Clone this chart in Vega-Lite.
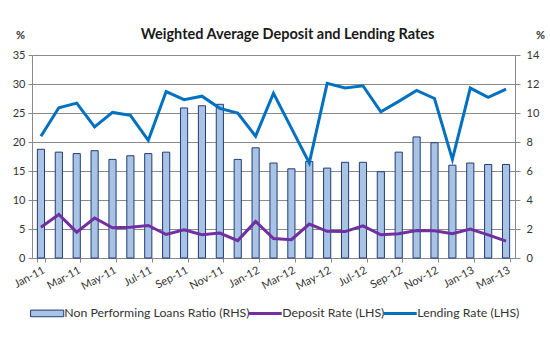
{
  "$schema": "https://vega.github.io/schema/vega-lite/v6.json",
  "width": 483,
  "height": 203,
  "autosize": "none",
  "padding": {"left": 32, "top": 55, "right": 35, "bottom": 87},
  "background": "white",
  "title": {"text": "Weighted Average Deposit and Lending Rates", "font": "Lato", "fontSize": 14.5, "fontWeight": "bold", "color": "#1a1a1a", "anchor": "middle", "offset": 14, "dy": 27, "dx": 14},
  "config": {
    "view": {"stroke": null},
    "axis": {"labelFont": "Lato", "labelFontSize": 11, "labelColor": "#333333", "domainColor": "#888888", "tickColor": "#888888", "titleFont": "Lato"},
    "legend": {"labelFont": "Lato", "labelLimit": 400}
  },
  "data": {"values": [
    {"month": "Jan-11", "npl": 7.5, "deposit": 5.3, "lending": 21.0},
    {"month": "Feb-11", "npl": 7.3, "deposit": 7.5, "lending": 25.9},
    {"month": "Mar-11", "npl": 7.2, "deposit": 4.45, "lending": 26.7},
    {"month": "Apr-11", "npl": 7.4, "deposit": 6.9, "lending": 22.6},
    {"month": "May-11", "npl": 6.8, "deposit": 5.2, "lending": 25.1},
    {"month": "Jun-11", "npl": 7.05, "deposit": 5.3, "lending": 24.6},
    {"month": "Jul-11", "npl": 7.2, "deposit": 5.6, "lending": 20.3},
    {"month": "Aug-11", "npl": 7.3, "deposit": 4.05, "lending": 28.7},
    {"month": "Sep-11", "npl": 10.35, "deposit": 4.85, "lending": 27.3},
    {"month": "Oct-11", "npl": 10.5, "deposit": 4.0, "lending": 27.9},
    {"month": "Nov-11", "npl": 10.6, "deposit": 4.3, "lending": 25.8},
    {"month": "Dec-11", "npl": 6.8, "deposit": 3.0, "lending": 25.0},
    {"month": "Jan-12", "npl": 7.6, "deposit": 6.3, "lending": 21.0},
    {"month": "Feb-12", "npl": 6.55, "deposit": 3.35, "lending": 28.4},
    {"month": "Mar-12", "npl": 6.15, "deposit": 3.15, "lending": 22.4},
    {"month": "Apr-12", "npl": 6.65, "deposit": 5.85, "lending": 16.4},
    {"month": "May-12", "npl": 6.2, "deposit": 4.6, "lending": 30.1},
    {"month": "Jun-12", "npl": 6.6, "deposit": 4.55, "lending": 29.3},
    {"month": "Jul-12", "npl": 6.6, "deposit": 5.55, "lending": 29.7},
    {"month": "Aug-12", "npl": 5.95, "deposit": 4.0, "lending": 25.2},
    {"month": "Sep-12", "npl": 7.3, "deposit": 4.2, "lending": 27.0},
    {"month": "Oct-12", "npl": 8.35, "deposit": 4.75, "lending": 28.9},
    {"month": "Nov-12", "npl": 7.95, "deposit": 4.7, "lending": 27.5},
    {"month": "Dec-12", "npl": 6.4, "deposit": 4.2, "lending": 17.0},
    {"month": "Jan-13", "npl": 6.55, "deposit": 5.0, "lending": 29.3},
    {"month": "Feb-13", "npl": 6.45, "deposit": 4.0, "lending": 27.7},
    {"month": "Mar-13", "npl": 6.45, "deposit": 2.9, "lending": 29.1}
  ]},
  "layer": [
    {
      "mark": {"type": "bar", "fill": "#a9c3e5", "strokeWidth": 1},
      "encoding": {
        "x": {
          "field": "month", "type": "ordinal", "sort": null,
          "scale": {"paddingInner": 0.6, "paddingOuter": 0.3},
          "axis": {
            "title": null,
            "values": ["Jan-11", "Mar-11", "May-11", "Jul-11", "Sep-11", "Nov-11", "Jan-12", "Mar-12", "May-12", "Jul-12", "Sep-12", "Nov-12", "Jan-13", "Mar-13"],
            "tickBand": "extent", "labelAngle": -28, "labelAlign": "right", "labelBaseline": "top",
            "labelPadding": 2, "tickSize": 4
          }
        },
        "y": {
          "field": "npl", "type": "quantitative", "scale": {"domain": [0, 14]},
          "axis": {
            "orient": "right", "values": [0, 2, 4, 6, 8, 10, 12, 14], "grid": false,
            "title": "%", "titleAngle": 0, "titleX": 25, "titleY": -20, "titleAlign": "center", "titleBaseline": "middle",
            "titleFontSize": 11, "titleFontWeight": "bold", "titleColor": "#333333",
            "tickSize": 5, "labelPadding": 6
          }
        },
        "stroke": {
          "datum": "npl",
          "scale": {"domain": ["npl", "deposit", "lending"], "range": ["#203c78", "#7030a0", "#0070c0"]},
          "legend": {
            "orient": "bottom", "direction": "horizontal", "title": null, "offset": 15,
            "labelExpr": "datum.value == 'npl' ? 'Non Performing Loans Ratio (RHS)' : datum.value == 'deposit' ? 'Deposit Rate (LHS)' : 'Lending Rate (LHS)'",
            "labelFontSize": 12.3, "labelColor": "#333333", "labelOffset": 11, "symbolOffset": 9, "columnPadding": -11, "labelLimit": 400,
            "symbolSize": 1100, "symbolStrokeWidth": 3, "symbolType": "stroke",
            "encode": {"symbols": {"update": {
              "shape": {"signal": "datum.value == 'npl' ? 'M-1,-0.2H1V0.2H-1Z' : 'stroke'"},
              "fill": {"signal": "datum.value == 'npl' ? '#a9c3e5' : 'transparent'"},
              "strokeWidth": {"signal": "datum.value == 'npl' ? 1 : 3"}
            }}}
          }
        }
      }
    },
    {
      "transform": [{"fold": ["deposit", "lending"], "as": ["series", "value"]}],
      "mark": {"type": "line", "strokeWidth": 3},
      "encoding": {
        "x": {"field": "month", "type": "ordinal", "sort": null},
        "y": {
          "field": "value", "type": "quantitative", "scale": {"domain": [0, 35]},
          "axis": {
            "orient": "left", "values": [0, 5, 10, 15, 20, 25, 30, 35],
            "title": "%", "titleAngle": 0, "titleX": -12, "titleY": -20, "titleAlign": "center", "titleBaseline": "middle",
            "titleFontSize": 11, "titleFontWeight": "bold", "titleColor": "#333333",
            "grid": true, "gridColor": "#8a8a8a", "tickSize": 4, "labelPadding": 3
          }
        },
        "stroke": {
          "field": "series", "type": "nominal",
          "legend": {
            "orient": "bottom", "direction": "horizontal", "title": null, "offset": 15,
            "labelExpr": "datum.value == 'npl' ? 'Non Performing Loans Ratio (RHS)' : datum.value == 'deposit' ? 'Deposit Rate (LHS)' : 'Lending Rate (LHS)'",
            "labelFontSize": 12.3, "labelColor": "#333333", "labelOffset": 11, "symbolOffset": 9, "columnPadding": -11, "labelLimit": 400,
            "symbolSize": 1100, "symbolStrokeWidth": 3, "symbolType": "stroke",
            "encode": {"symbols": {"update": {
              "shape": {"signal": "datum.value == 'npl' ? 'M-1,-0.2H1V0.2H-1Z' : 'stroke'"},
              "fill": {"signal": "datum.value == 'npl' ? '#a9c3e5' : 'transparent'"},
              "strokeWidth": {"signal": "datum.value == 'npl' ? 1 : 3"}
            }}}
          }
        }
      }
    }
  ],
  "resolve": {"scale": {"y": "independent"}}
}
